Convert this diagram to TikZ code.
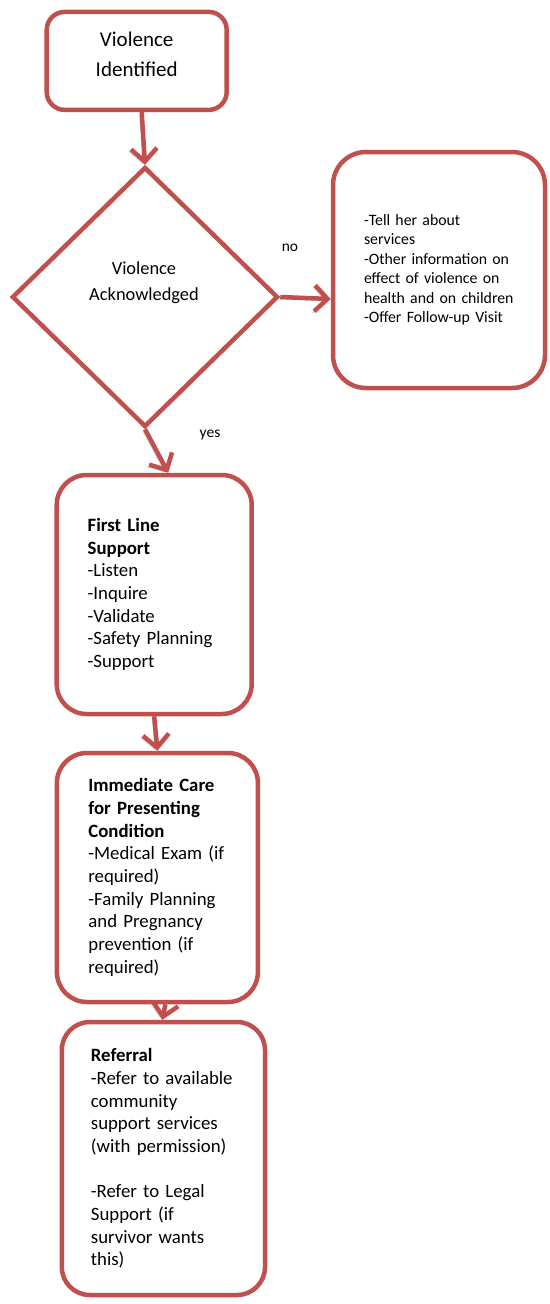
\documentclass[tikz,border=0pt]{standalone}
\usepackage{fontspec}
\setmainfont{Carlito}
\usetikzlibrary{shapes.geometric,arrows.meta}

\definecolor{boxred}{RGB}{192,80,77}
\newcommand{\bodyfont}{\fontsize{18.8}{22.7}\selectfont}
\hyphenpenalty=10000

\tikzset{
  box/.style={draw=boxred, line width=4.5pt, rounded corners=#1, align=left, inner ysep=0pt},
  box/.default=30pt,
  flowarrow/.style={draw=boxred, line width=4.5pt, -{Straight Barb[length=13pt,width=26pt]},
    preaction={draw=black!30, transform canvas={shift={(-2pt,-2pt)}}}},
  answer/.style={font=\fontsize{15.5}{18}\selectfont}
}

\begin{document}
\begin{tikzpicture}[x=1pt, y=-1pt]
    \useasboundingbox (0,0) rectangle (549,1304);

    \node[box=18pt, align=center, minimum width=180pt, minimum height=98pt, text depth=13pt, font=\fontsize{21}{30}\selectfont] (ident) at (136.7,60.9) {Violence\\Identified};

    \node[diamond, draw=boxred, line width=4.5pt, minimum width=266pt, minimum height=260pt, inner sep=0pt] (ack) at (145,297) {};
    \node[align=center, font=\fontsize{18.4}{26.5}\selectfont] (acktext) at (144,282.5) {Violence\\Acknowledged};

    \node[box=33pt, text width=150pt, inner xsep=31pt, minimum height=236pt, font=\fontsize{15.8}{19.5}\selectfont] (info) at (439,270)
      {-Tell her about\\services\\-Other information on\\effect of violence on\\health and on children\\-Offer Follow-up Visit};

    \node[box, text width=133pt, inner xsep=31pt, minimum height=239pt, font=\bodyfont] (fls) at (154.2,594.5)
      {\textbf{First Line}\\\textbf{Support}\\-Listen\\-Inquire\\-Validate\\-Safety Planning\\-Support};

    \node[box, text width=138pt, inner xsep=31.5pt, minimum height=249pt, font=\bodyfont] (care) at (157.4,877.5)
      {\textbf{Immediate Care}\\\textbf{for Presenting}\\\textbf{Condition}\\-Medical Exam (if\\required)\\-Family Planning\\and Pregnancy\\prevention (if\\required)};

    \node[box=28pt, text width=145pt, inner xsep=29.1pt, minimum height=273pt, font=\bodyfont] (ref) at (163.4,1158.5)
      {\textbf{Referral}\\-Refer to available\\community\\support services\\(with permission)\\[22.7pt]-Refer to Legal\\Support (if\\survivor wants\\this)};

    \node[answer] (nolbl) at (290,248) {no};
    \node[answer] (yeslbl) at (210,435) {yes};

    % connectors
    \draw[flowarrow] ([xshift=5pt]ident.south) -- (ack.north);
    \draw[flowarrow] (ack.east) -- ([yshift=-2pt]ack.east -| info.west);
    \draw[flowarrow] (ack.south) -- ([xshift=14pt]fls.north);
    \draw[flowarrow] (fls.south) -- (care.north);
    \draw[flowarrow] ([xshift=8pt]care.south) -- ([xshift=-1pt]ref.north);
\end{tikzpicture}
\end{document}
